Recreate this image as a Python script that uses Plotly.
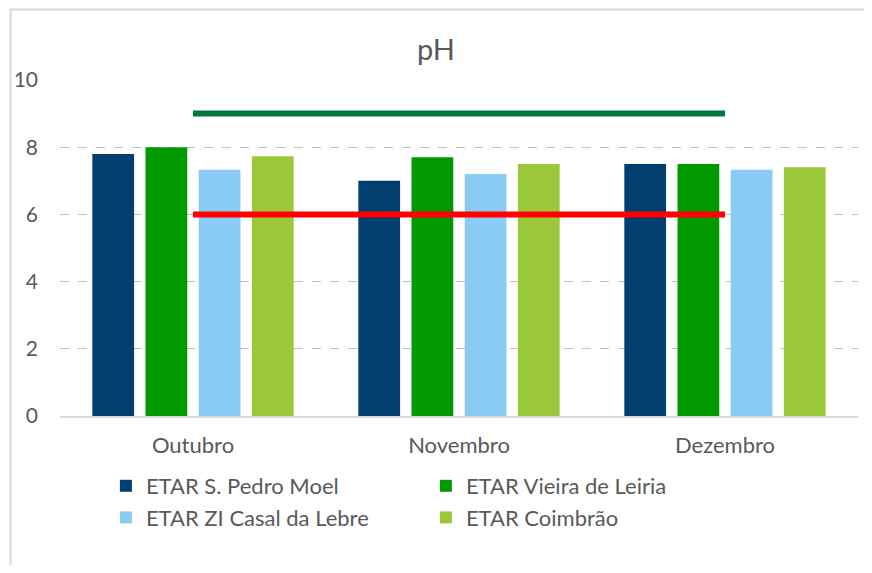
import plotly.graph_objects as go

months = ["Outubro", "Novembro", "Dezembro"]
series_names = ["ETAR S. Pedro Moel", "ETAR Vieira de Leiria",
                "ETAR ZI Casal da Lebre", "ETAR Coimbrão"]
ph_pedro_moel = [7.8, 7.0, 7.5]
ph_vieira = [8.0, 7.7, 7.5]
ph_casal_lebre = [7.33, 7.2, 7.33]
ph_coimbrao = [7.73, 7.5, 7.4]
limit_max = [9, 9, 9]
limit_min = [6, 6, 6]
y_ticks = [0, 2, 4, 6, 8, 10]

colors = ["#003F6F", "#009900", "#89CBF2", "#9BC83B"]
series_values = [ph_pedro_moel, ph_vieira, ph_casal_lebre, ph_coimbrao]

FONT = "Lato"
TXT = "#595959"

fig = go.Figure()
for name, vals, col in zip(series_names, series_values, colors):
    fig.add_trace(go.Bar(x=months, y=vals, name=name, marker_color=col,
                         marker_line_width=0))

fig.add_trace(go.Scatter(x=months, y=limit_max, mode="lines", showlegend=False,
                         line=dict(color="#00783A", width=6)))
fig.add_trace(go.Scatter(x=months, y=limit_min, mode="lines", showlegend=False,
                         line=dict(color="#FF0000", width=6)))

OFF = 8  # page body margin
W, H = 872 - 2 * OFF, 573 - 2 * OFF
# plot area in screen coordinates: x 58..858, y 80..416
L = 58 - OFF
R = W - (858 - OFF)
T = 80 - OFF
B = H - (416 - OFF)
pw, ph = W - L - R, H - T - B

def px_x(sx):
    return (sx - OFF - L) / pw

def px_y(sy):
    return (H - B - (sy - OFF)) / ph

fig.add_shape(type="rect", xref="paper", yref="paper",
              x0=px_x(8.5), x1=px_x(900), y0=px_y(620), y1=px_y(9.5),
              line=dict(color="#D9D9D9", width=2), fillcolor="rgba(0,0,0,0)",
              layer="below")

fig.update_layout(
    width=W, height=H,
    margin=dict(l=L, r=R, t=T, b=B),
    paper_bgcolor="white", plot_bgcolor="white",
    barmode="group", bargap=0.2, bargroupgap=0.215,
    font=dict(family=FONT, color=TXT, size=21),
    title=dict(text="pH", x=0.5, xanchor="center", y=1 - (50 - OFF) / H, yanchor="middle",
               font=dict(family=FONT, size=29, color=TXT)),
    showlegend=True,
    legend=dict(orientation="h", x=px_x(104), xanchor="left", y=px_y(465), yanchor="top",
                entrywidth=275, entrywidthmode="pixels",
                font=dict(family=FONT, size=22, color=TXT),
                traceorder="normal"),
    xaxis=dict(showgrid=False, showline=True, linecolor="#D9D9D9", linewidth=2,
               ticks="", ticklabelstandoff=9,
               tickfont=dict(family=FONT, size=22, color=TXT)),
    yaxis=dict(range=[0, 10], tickvals=y_ticks, showgrid=True, gridcolor="#BFBFBF",
               griddash="dash", gridwidth=1, zeroline=False, showline=False,
               ticks="", ticklabelstandoff=21,
               tickfont=dict(family=FONT, size=21, color=TXT)),
)

fig.write_html("out.html")
